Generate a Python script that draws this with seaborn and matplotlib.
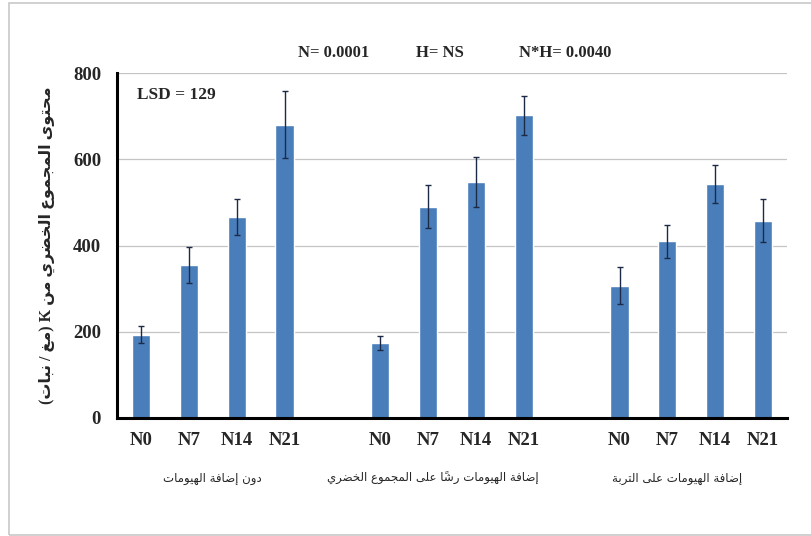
import numpy as np
import pandas as pd
import matplotlib
matplotlib.use("Agg")
import matplotlib.pyplot as plt
import seaborn as sns
from matplotlib.patches import Rectangle

# data
groups = ["دون إضافة الهيومات",
          "إضافة الهيومات رشاً على المجموع الخضري",
          "إضافة الهيومات على التربة"]
levels = ["N0", "N7", "N14", "N21"]
k_no_humate = [193, 355, 466, 680]
k_foliar = [174, 490, 548, 702]
k_soil = [307, 410, 543, 457]
err_no_humate = [20, 42, 42, 78]
err_foliar = [16, 50, 58, 45]
err_soil = [42, 38, 44, 50]
stats_text = ["N= 0.0001", "H= NS", "N*H= 0.0040"]
lsd_text = "LSD = 129"
ylabel = "محتوى المجموع الخضري من K (مغ / نبات)"

# --- crude arabic shaping (matplotlib does no bidi / joining) ---
DUAL = {}
for ch, s in zip("بتثجحخسشصضطظعغفقكلمنهي",
                 [0xFE8F, 0xFE95, 0xFE99, 0xFE9D, 0xFEA1, 0xFEA5, 0xFEB1, 0xFEB5,
                  0xFEB9, 0xFEBD, 0xFEC1, 0xFEC5, 0xFEC9, 0xFECD, 0xFED1, 0xFED5,
                  0xFED9, 0xFEDD, 0xFEE1, 0xFEE5, 0xFEE9, 0xFEF1]):
    DUAL[ch] = s
RIGHT = {}
for ch, s in zip("اإأآةدذرزوى",
                 [0xFE8D, 0xFE87, 0xFE83, 0xFE81, 0xFE93, 0xFEA9, 0xFEAB, 0xFEAD,
                  0xFEAF, 0xFEED, 0xFEEF]):
    RIGHT[ch] = s
LAMALEF = {"ا": 0xFEFB, "إ": 0xFEF9, "أ": 0xFEF7, "آ": 0xFEF5}
MARKS = set(chr(c) for c in range(0x064B, 0x0653))
MIRROR = {"(": ")", ")": "("}


def shape(text):
    chars = list(text)
    n = len(chars)
    res = []
    i = 0
    while i < n:
        c = chars[i]
        if c not in DUAL and c not in RIGHT:
            res.append(c)
            i += 1
            continue
        j = i - 1
        while j >= 0 and chars[j] in MARKS:
            j -= 1
        prev = chars[j] if j >= 0 else ""
        k = i + 1
        while k < n and chars[k] in MARKS:
            k += 1
        nxt = chars[k] if k < n else ""
        jp = prev in DUAL
        if c == "ل" and nxt in LAMALEF:
            res.append(chr(LAMALEF[nxt] + (1 if jp else 0)))
            res.extend(chars[i + 1:k])
            i = k + 1
            continue
        if c in DUAL:
            jn = nxt in DUAL or nxt in RIGHT
            s = DUAL[c]
            form = 3 if (jp and jn) else 1 if jp else 2 if jn else 0
        else:
            s = RIGHT[c]
            form = 1 if jp else 0
        res.append(chr(s + form))
        i += 1
    # visual order: reverse clusters, keep marks after their base
    clusters = []
    for c in res:
        if c in MARKS and clusters:
            clusters[-1] += c
        else:
            clusters.append(c)
    return "".join(MIRROR.get(c, c) for c in reversed(clusters))


# --- build table ---
values = [k_no_humate, k_foliar, k_soil]
errors = [err_no_humate, err_foliar, err_soil]
order = []
rows = []
for gi in range(3):
    for li, lev in enumerate(levels):
        slot = "g%d-%s" % (gi, lev)
        order.append(slot)
        rows.append({"slot": slot, "K": values[gi][li], "err": errors[gi][li]})
    if gi < 2:
        order.append("gap%d" % gi)
df = pd.DataFrame(rows)

sns.set_style("white")
plt.rcParams["font.family"] = ["Liberation Serif", "DejaVu Sans"]

fig = plt.figure(figsize=(8.11, 5.36), dpi=100)
ax = fig.add_axes([117 / 811, 118 / 536, 670 / 811, 345 / 536])

sns.barplot(data=df, x="slot", y="K", order=order, color="#4A7EBB",
            saturation=1, width=0.38, errorbar=None, ax=ax)
xpos = [order.index(s) for s in df["slot"]]
ax.errorbar(xpos, df["K"], yerr=df["err"], fmt="none", ecolor="#1c2a45",
            elinewidth=1.0, capsize=2.5, capthick=1.0)

ax.set_xlim(-0.5, len(order) - 0.5)
ax.set_ylim(0, 800)
ax.set_yticks([0, 200, 400, 600, 800])
ax.yaxis.grid(True, color="#c4c4c4", lw=0.9)
ax.set_axisbelow(True)
for sp in ["top", "right"]:
    ax.spines[sp].set_visible(False)
for sp in ["left", "bottom"]:
    ax.spines[sp].set_linewidth(2.2)
    ax.spines[sp].set_color("black")

# tick marks between slots, labels under bars
ax.set_xticks(np.arange(-0.5, len(order)), labels=[""] * (len(order) + 1))
ax.set_xticks(xpos, minor=True)
ax.set_xticklabels([s.split("-")[1] for s in df["slot"]], minor=True)
ax.tick_params(axis="x", which="major", direction="out", length=5, width=1.5, color="black")
ax.tick_params(axis="x", which="minor", length=0, pad=10, labelsize=13.5)
ax.tick_params(axis="y", direction="inout", length=7, width=1.5, color="black",
               labelsize=13.5, pad=8)
for lab in ax.get_xticklabels(minor=True) + ax.get_yticklabels():
    lab.set_fontweight("bold")
    lab.set_family("Liberation Serif")
ax.set_xlabel("")
ax.set_ylabel("")

# group names under the tick labels
group_x = [1.5, 6.1, 11.2]
for gx, name in zip(group_x, groups):
    ax.text(gx, -0.175, shape(name), transform=ax.get_xaxis_transform(),
            ha="center", va="center", fontsize=8.5, family=["DejaVu Sans"])

fig.text(47 / 811, 0.5 * (118 + 463) / 536, shape(ylabel), rotation=90,
         ha="center", va="center", fontsize=11.5, fontweight="bold",
         family=["Liberation Serif", "DejaVu Sans"])

stat_x = [334, 440, 565]
for sx, t in zip(stat_x, stats_text):
    fig.text(sx / 811, 1 - 53 / 536, t, ha="center", va="center",
             fontsize=12, fontweight="bold", family="Liberation Serif")
ax.text(0.03, 0.935, lsd_text, transform=ax.transAxes, ha="left", va="center",
        fontsize=12.5, fontweight="bold", family="Liberation Serif")

fig.patches.append(Rectangle((9 / 811, 1 / 536), 1.0, 532 / 536, transform=fig.transFigure,
                             fill=False, ec="#c8c8c8", lw=1.2))

fig.savefig("out.png", dpi=100)
